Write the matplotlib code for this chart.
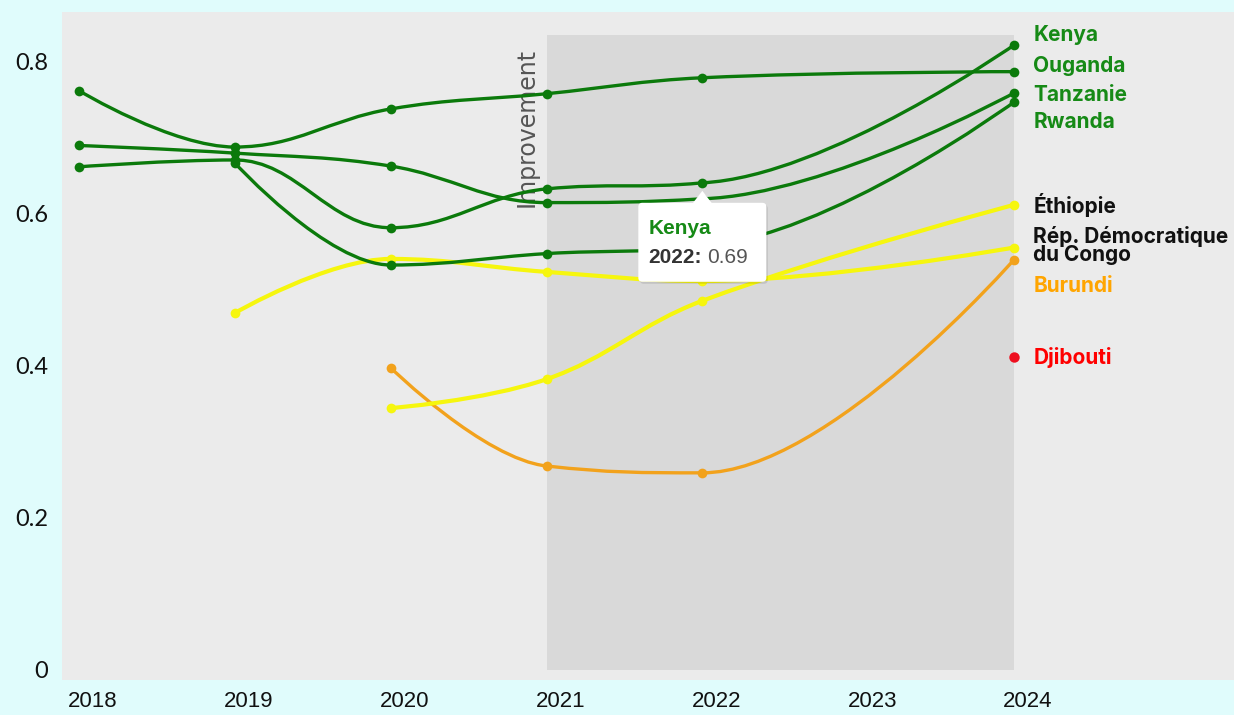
import matplotlib
matplotlib.use("Agg")
import matplotlib.pyplot as plt
from matplotlib.path import Path
from matplotlib.patches import PathPatch, FancyBboxPatch, Polygon, Rectangle
from matplotlib.transforms import IdentityTransform, ScaledTranslation

# ---------------- data ----------------
years = [2018, 2019, 2020, 2021, 2022, 2023, 2024]

kenya    = [0.661, 0.670, 0.581, 0.632, 0.640, None, 0.821]
ouganda  = [0.761, 0.687, 0.737, 0.757, 0.778, None, 0.786]
tanzanie = [0.689, 0.679, 0.662, 0.614, 0.619, None, 0.758]
rwanda   = [None,  0.666, 0.532, 0.547, 0.557, None, 0.746]
ethiopie = [None,  None,  0.344, 0.382, 0.485, None, 0.611]
rdc      = [None,  0.469, 0.540, 0.523, 0.511, None, 0.555]
burundi  = [None,  None,  0.397, 0.268, 0.259, None, 0.539]
djibouti = [None,  None,  None,  None,  None,  None, 0.411]

series_names = ["Burundi", "Éthiopie", "Rép. Démocratique\ndu Congo",
                "Rwanda", "Tanzanie", "Ouganda", "Kenya", "Djibouti"]
series_values = [burundi, ethiopie, rdc, rwanda, tanzanie, ouganda, kenya, djibouti]

y_ticks = [0, 0.2, 0.4, 0.6, 0.8]
y_tick_labels = ["0", "0.2", "0.4", "0.6", "0.8"]
x_tick_labels = ["2018", "2019", "2020", "2021", "2022", "2023", "2024"]

band_start, band_end, band_top = 2021, 2024, 0.834
tooltip_series, tooltip_year, tooltip_text = "Kenya", 2022, "0.69"

# ---------------- style ----------------
GREEN = "#0b7a0b"
YELLOW = "#f6f60e"
ORANGE = "#f2a21c"
RED = "#ee0f1f"
line_colors = {"Burundi": ORANGE, "Éthiopie": YELLOW, "Rép. Démocratique\ndu Congo": YELLOW,
               "Rwanda": GREEN, "Tanzanie": GREEN, "Ouganda": GREEN, "Kenya": GREEN,
               "Djibouti": RED}
label_colors = {"Burundi": "#ffa500", "Éthiopie": "#111111",
                "Rép. Démocratique\ndu Congo": "#111111",
                "Rwanda": "#168a16", "Tanzanie": "#168a16", "Ouganda": "#168a16",
                "Kenya": "#168a16", "Djibouti": "#ff0000"}
# label vertical offset from the end point (pixels, up positive)
label_dy = {"Kenya": 10, "Ouganda": 6, "Tanzanie": -2, "Rwanda": -20, "Éthiopie": 0,
            "Rép. Démocratique\ndu Congo": 2, "Burundi": -26, "Djibouti": 0}

W, H = 1234, 715
fig = plt.figure(figsize=(W / 100, H / 100), dpi=100)
fig.patch.set_facecolor("#e0fcfc")

L, R, T, B = 62, 1234, 12, 680
ax = fig.add_axes([L / W, (H - B) / H, (R - L) / W, (B - T) / H])
ax.set_facecolor("#ebebeb")
for s in ax.spines.values():
    s.set_visible(False)

# axis scaling: 2018 -> x=79, 2024 -> x=1014 ; 0 -> y=670, 0.8 -> y=61
ppy = (1014 - 79) / 6.0
ax.set_xlim(2018 - (79 - L) / ppy, 2024 + (R - 1014) / ppy)
ppv = (670 - 61) / 0.8
ax.set_ylim(-(B - 670) / ppv, (670 - T) / ppv)

# plot band
ax.add_patch(Rectangle((band_start, 0), band_end - band_start, band_top,
                       facecolor="#d9d9d9", edgecolor="none", zorder=0.5))
ax.annotate("Improvement", xy=(band_start, band_top), xytext=(-14, -9),
            textcoords="offset points", rotation=90, ha="center", va="top",
            fontsize=17, color="#555555", family="DejaVu Sans", zorder=1)


def hc_spline(xs, ys, smoothing=1.5):
    n = len(xs)
    denom = smoothing + 1
    left = [None] * n
    right = [None] * n
    for i in range(1, n - 1):
        px, py = xs[i], ys[i]
        lx, ly = xs[i - 1], ys[i - 1]
        nx, ny = xs[i + 1], ys[i + 1]
        lcx = (smoothing * px + lx) / denom
        lcy = (smoothing * py + ly) / denom
        rcx = (smoothing * px + nx) / denom
        rcy = (smoothing * py + ny) / denom
        if rcx != lcx:
            corr = ((rcy - lcy) * (rcx - px)) / (rcx - lcx) + py - rcy
            lcy += corr
            rcy += corr
        if lcy > ly and lcy > py:
            lcy = max(ly, py); rcy = 2 * py - lcy
        elif lcy < ly and lcy < py:
            lcy = min(ly, py); rcy = 2 * py - lcy
        if rcy > ny and rcy > py:
            rcy = max(ny, py); lcy = 2 * py - rcy
        elif rcy < ny and rcy < py:
            rcy = min(ny, py); lcy = 2 * py - rcy
        left[i] = (lcx, lcy)
        right[i] = (rcx, rcy)
    verts = [(xs[0], ys[0])]
    codes = [Path.MOVETO]
    for i in range(1, n):
        c1 = right[i - 1] if right[i - 1] is not None else (xs[i - 1], ys[i - 1])
        c2 = left[i] if left[i] is not None else (xs[i], ys[i])
        verts += [c1, c2, (xs[i], ys[i])]
        codes += [Path.CURVE4] * 3
    return Path(verts, codes)


end_points = {}
for k, (name, vals) in enumerate(zip(series_names, series_values)):
    xs = [x for x, v in zip(years, vals) if v is not None]
    ys = [v for v in vals if v is not None]
    col = line_colors[name]
    z = 2 + k * 0.1
    if len(xs) > 1:
        lw = 3.0 if col == YELLOW else 2.4
        ax.add_patch(PathPatch(hc_spline(xs, ys), facecolor="none", edgecolor=col,
                               lw=lw, capstyle="round", joinstyle="round", zorder=z))
    ax.plot(xs, ys, "o", color=col, ms=7.5 if name == "Djibouti" else 7, mec="none",
            zorder=z + 0.05)
    end_points[name] = (xs[-1], ys[-1])

# right-side labels
for name in series_names:
    ex, ey = end_points[name]
    ax.annotate(name, xy=(ex, ey), xytext=(14, label_dy[name] * 0.72),
                textcoords="offset points", ha="left", va="center",
                fontsize=15, fontweight="bold", family="Inter",
                color=label_colors[name], linespacing=0.92, zorder=5,
                annotation_clip=False)

# ticks
ax.set_yticks(y_ticks)
ax.set_yticklabels(y_tick_labels)
ax.set_xticks(years)
ax.set_xticklabels(x_tick_labels)
ax.tick_params(axis="both", length=0)
ax.tick_params(axis="y", pad=10, labelsize=17, labelcolor="#111111")
ax.tick_params(axis="x", pad=8, labelsize=16, labelcolor="#111111")
for lab in ax.get_yticklabels():
    lab.set_family("Lato")
for lab in ax.get_xticklabels():
    lab.set_family("Liberation Sans")
    lab.set_transform(lab.get_transform() + ScaledTranslation(14 / 100, 0, fig.dpi_scale_trans))
ax.grid(False)

# tooltip
tvals = series_values[series_names.index(tooltip_series)]
tv = tvals[years.index(tooltip_year)]
px, py = ax.transData.transform((tooltip_year, tv))
r = 4
bx0, bx1 = px - 64, px + 64
by0, by1 = py - 99, py - 20
shadow = FancyBboxPatch((bx0 + r + 1.5, by0 + r - 2), (bx1 - bx0) - 2 * r, (by1 - by0) - 2 * r,
                        boxstyle=f"round,pad={r}", transform=IdentityTransform(),
                        facecolor="#000000", alpha=0.10, edgecolor="none", zorder=10)
fig.add_artist(shadow)
box = FancyBboxPatch((bx0 + r, by0 + r), (bx1 - bx0) - 2 * r, (by1 - by0) - 2 * r,
                     boxstyle=f"round,pad={r}", transform=IdentityTransform(),
                     facecolor="white", edgecolor="none", zorder=11)
fig.add_artist(box)
tri = Polygon([(px - 10, by1 - 1), (px + 10, by1 - 1), (px, py - 8)], closed=True,
              transform=IdentityTransform(), facecolor="white", edgecolor="none", zorder=11)
fig.add_artist(tri)
t1 = fig.text(bx0 + 10, py - 46, tooltip_series, transform=IdentityTransform(),
              fontsize=15, fontweight="bold", color="#168a16", family="Liberation Sans",
              ha="left", va="center", zorder=12)
t2 = fig.text(bx0 + 10, py - 75, f"{tooltip_year}:", transform=IdentityTransform(),
              fontsize=15, fontweight="bold", color="#333333", family="Liberation Sans",
              ha="left", va="center", zorder=12)
renderer = fig.canvas.get_renderer()
ext = t2.get_window_extent(renderer)
fig.text(ext.x1 + 5, py - 75, tooltip_text, transform=IdentityTransform(),
         fontsize=15, color="#555555", family="Liberation Sans",
         ha="left", va="center", zorder=12)

fig.savefig("out.png", dpi=100, facecolor=fig.get_facecolor())
